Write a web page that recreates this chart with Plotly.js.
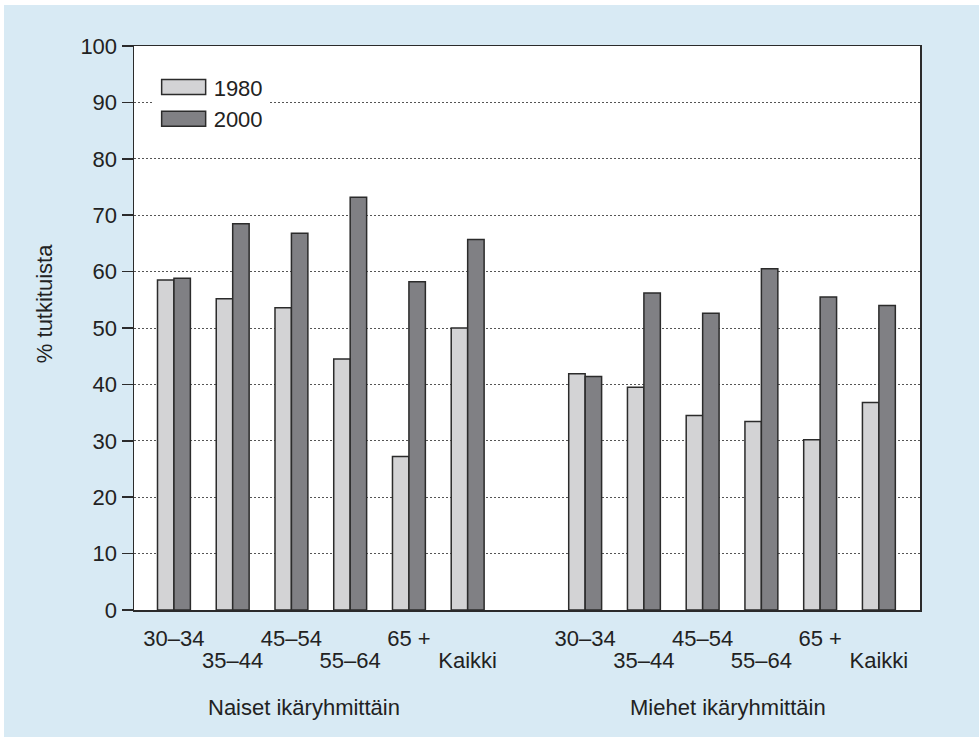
<!DOCTYPE html>
<html><head><meta charset="utf-8">
<script src="https://cdn.plot.ly/plotly-3.0.1.min.js"></script>
<style>html,body{margin:0;padding:0;background:#fff;}#chart{position:absolute;left:4px;top:5px;width:975px;height:732px;}</style>
</head><body><div id="chart"></div>
<script>
const categories = ["30–34","35–44","45–54","55–64","65 +","Kaikki"];
const groups = ["Naiset ikäryhmittäin","Miehet ikäryhmittäin"];
const yTitle = "% tutkituista";
const naiset1980 = [58.5,55.2,53.6,44.5,27.2,50.0];
const naiset2000 = [58.8,68.5,66.8,73.2,58.2,65.7];
const miehet1980 = [41.9,39.5,34.5,33.4,30.2,36.8];
const miehet2000 = [41.4,56.2,52.6,60.5,55.5,54.0];
const seriesNames = ["1980","2000"];

// positions: group 1 at 0..5, empty slot, group 2 at 7..12
const xs = [];
categories.forEach((c,i)=>{xs.push(i);});
categories.forEach((c,i)=>{xs.push(i+7);});
const allLabels = categories.concat(categories);
const row1Vals = xs.filter((v,i)=>i%2===0), row1Text = allLabels.filter((v,i)=>i%2===0);
const row2Vals = xs.filter((v,i)=>i%2===1), row2Text = allLabels.filter((v,i)=>i%2===1);

const lineStyle = {color:"#2b2b2b", width:1.5};
const traces = [
  {type:"bar", name:seriesNames[0], x:xs, y:naiset1980.concat(miehet1980),
   marker:{color:"#d3d3d5", line:lineStyle}, hoverinfo:"y"},
  {type:"bar", name:seriesNames[1], x:xs, y:naiset2000.concat(miehet2000),
   marker:{color:"#808084", line:lineStyle}, hoverinfo:"y"},
  // empty helper trace so the second (staggered) label axis is drawn
  {type:"scatter", x:[], y:[], xaxis:"x2", yaxis:"y", showlegend:false, hoverinfo:"skip"}
];

const fam = "Liberation Sans, Arial, sans-serif";
const txt = {family:fam, size:22, color:"#222"};
const xr = [-0.68,12.7];
const layout = {
  width:975, height:732,
  paper_bgcolor:"#d8eaf4", plot_bgcolor:"#ffffff",
  margin:{l:130, r:59, t:41, b:127},
  barmode:"group", bargap:0.44, bargroupgap:0,
  font:txt,
  showlegend:true,
  legend:{x:0.025, y:0.964, xanchor:"left", yanchor:"top", bgcolor:"#ffffff",
          font:{family:fam, size:22, color:"#222"}, traceorder:"normal",
          itemwidth:50, tracegroupgap:0},
  xaxis:{range:xr, tickmode:"array", tickvals:row1Vals, ticktext:row1Text,
         showgrid:false, zeroline:false, showline:true, linecolor:"#2b2b2b", linewidth:1.5,
         mirror:true, ticks:"", ticklabelstandoff:8, tickfont:txt, fixedrange:true},
  xaxis2:{range:xr, overlaying:"x", anchor:"y", side:"bottom", tickmode:"array", tickvals:row2Vals, ticktext:row2Text,
         showgrid:false, zeroline:false, showline:false, ticks:"", ticklabelstandoff:35, tickfont:txt, fixedrange:true},
  yaxis:{range:[0,100], dtick:10, tick0:0, showgrid:true, gridcolor:"#555", griddash:"2px,2px", gridwidth:1,
         zeroline:false, showline:true, linecolor:"#2b2b2b", linewidth:1.5, mirror:true,
         ticks:"outside", ticklen:11, tickcolor:"#2b2b2b", tickwidth:1.5,
         tickfont:txt, fixedrange:true},
  annotations:[
    {text:yTitle, x:-0.113, y:0.5426, xref:"paper", yref:"paper", textangle:-90, showarrow:false,
     xanchor:"center", yanchor:"middle", font:txt},
    {text:groups[0], x:2.22, y:-0.172, xref:"x", yref:"paper", showarrow:false, xanchor:"center", yanchor:"middle", font:txt},
    {text:groups[1], x:9.44, y:-0.172, xref:"x", yref:"paper", showarrow:false, xanchor:"center", yanchor:"middle", font:txt}
  ]
};
Plotly.newPlot("chart", traces, layout, {displayModeBar:false, staticPlot:true}).then(()=>{
  document.querySelectorAll("#chart .legendpoints path").forEach(p=>{
    p.setAttribute("d","M-22,7.5H22V-7.5H-22Z");
  });
});
</script></body></html>
